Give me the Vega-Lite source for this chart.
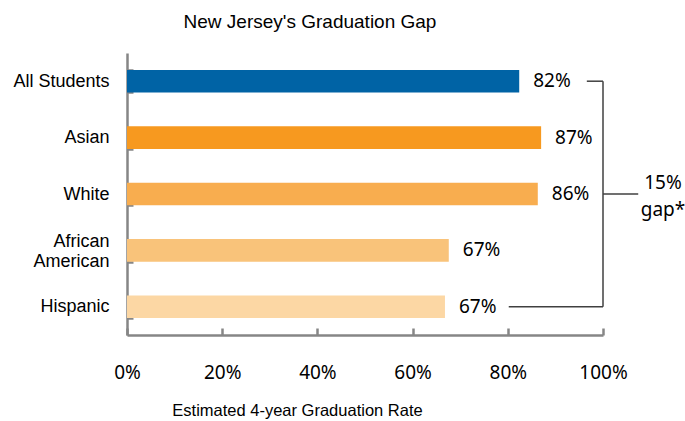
{
  "$schema": "https://vega.github.io/schema/vega-lite/v6.json",
  "width": 476,
  "height": 282,
  "autosize": "none",
  "padding": {"left": 127, "top": 53, "right": 82, "bottom": 86},
  "background": "white",
  "config": {"view": {"stroke": null}, "font": "Liberation Sans"},
  "title": {"text": "New Jersey's Graduation Gap", "fontSize": 19, "fontWeight": "normal", "color": "#000000", "anchor": "middle", "frame": "group", "dx": -55, "offset": 12, "font": "Liberation Sans"},
  "datasets": {
    "bars": [
      {"group": "All Students", "value": 82.4, "label": "82%"},
      {"group": "Asian", "value": 87.0, "label": "87%"},
      {"group": "White", "value": 86.3, "label": "86%"},
      {"group": "African American", "value": 67.6, "label": "67%"},
      {"group": "Hispanic", "value": 66.8, "label": "67%"}
    ],
    "bracket": [
      {"y": "All Students", "y2": "All Students", "x": 96.6, "x2": 100},
      {"y": "Hispanic", "y2": "Hispanic", "x": 80.2, "x2": 100},
      {"y": "All Students", "y2": "Hispanic", "x": 100, "x2": 100},
      {"y": "White", "y2": "White", "x": 100, "x2": 107.4}
    ],
    "note": [
      {"y": "White", "x": 112.6, "text": "15%\ngap*"}
    ]
  },
  "layer": [
    {
      "data": {"name": "bars"},
      "mark": {"type": "bar"},
      "encoding": {
        "y": {
          "field": "group", "type": "nominal", "sort": null,
          "scale": {"domain": ["All Students", "Asian", "White", "African American", "Hispanic"], "paddingInner": 0.6, "paddingOuter": 0.3},
          "axis": {
            "title": null,
            "labelExpr": "datum.value == 'African American' ? ['African', 'American'] : datum.value",
            "labelFont": "Liberation Sans", "labelFontSize": 18, "labelColor": "#000000",
            "labelPadding": 24, "labelLineHeight": 20,
            "labelOffset": {"condition": {"test": "datum.value == 'African American'", "value": -9}, "value": 0},
            "tickBand": "extent", "tickSize": -6, "tickWidth": 2.5, "tickColor": "#868686",
            "domainColor": "#868686", "domainWidth": 2.5
          }
        },
        "x": {
          "field": "value", "type": "quantitative",
          "scale": {"domain": [0, 100], "nice": false},
          "axis": {
            "values": [0, 20, 40, 60, 80, 100],
            "labelExpr": "datum.value + '%'",
            "labelFont": "Noto Sans", "labelFontSize": 19, "labelColor": "#000000",
            "labelPadding": 35, "labelFlush": false,
            "tickSize": -7, "tickWidth": 2.5, "tickColor": "#868686",
            "domainColor": "#868686", "domainWidth": 2.5, "grid": false,
            "title": "Estimated 4-year Graduation Rate",
            "titleFont": "Liberation Sans", "titleFontSize": 16.5, "titleFontWeight": "normal", "titleColor": "#000000",
            "titleX": 170, "titleY": 75, "titleAlign": "center", "titleBaseline": "middle"
          }
        },
        "color": {
          "field": "group", "type": "nominal",
          "scale": {"domain": ["All Students", "Asian", "White", "African American", "Hispanic"], "range": ["#0063A5", "#F7991F", "#F8AD4F", "#F9C37A", "#FCD7A4"]},
          "legend": null
        }
      }
    },
    {
      "data": {"name": "bars"},
      "mark": {"type": "text", "align": "left", "baseline": "middle", "dx": 14, "font": "Noto Sans", "fontSize": 19, "color": "#000000"},
      "encoding": {
        "y": {"field": "group", "type": "nominal", "sort": null},
        "x": {"field": "value", "type": "quantitative"},
        "text": {"field": "label", "type": "nominal"}
      }
    },
    {
      "data": {"name": "bracket"},
      "mark": {"type": "rule", "color": "#404040", "strokeWidth": 1.5},
      "encoding": {
        "y": {"field": "y", "type": "nominal", "sort": null},
        "y2": {"field": "y2"},
        "x": {"field": "x", "type": "quantitative"},
        "x2": {"field": "x2"}
      }
    },
    {
      "data": {"name": "note"},
      "mark": {"type": "text", "align": "center", "baseline": "middle", "dy": -11, "lineBreak": "\n", "lineHeight": 27, "font": "Noto Sans", "fontSize": 19, "color": "#000000"},
      "encoding": {
        "y": {"field": "y", "type": "nominal", "sort": null},
        "x": {"field": "x", "type": "quantitative"},
        "text": {"field": "text", "type": "nominal"}
      }
    }
  ]
}
